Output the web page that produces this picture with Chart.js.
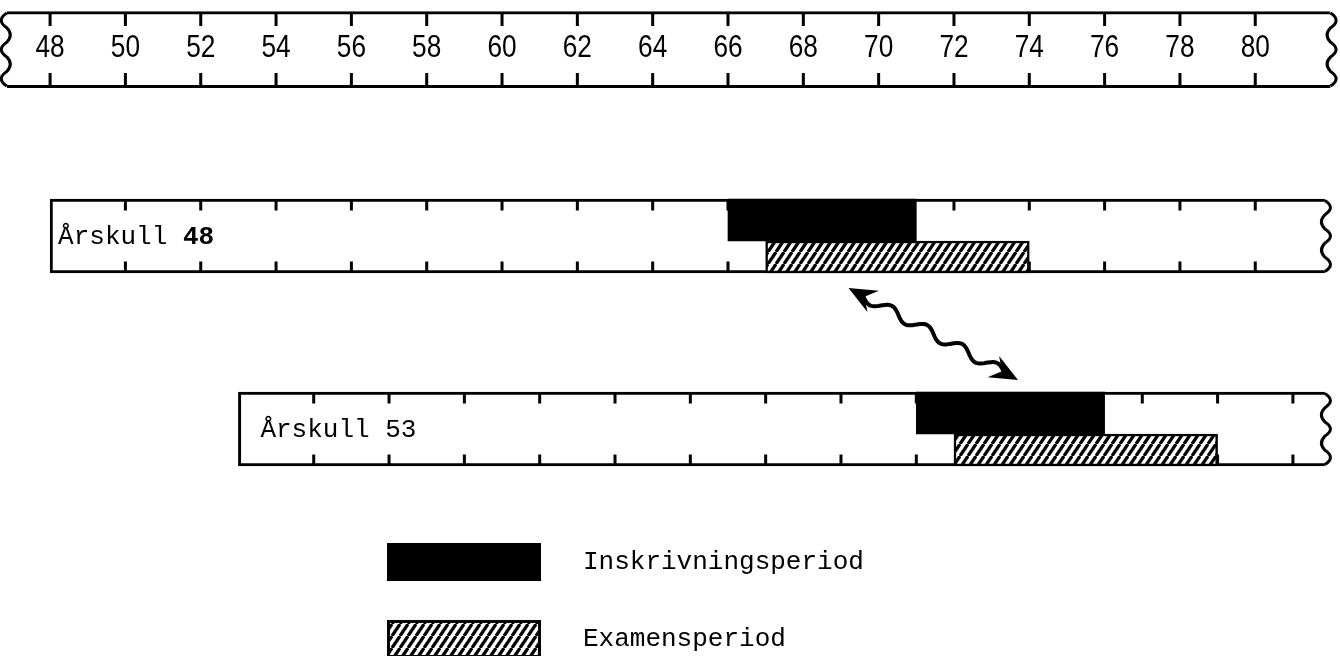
<!DOCTYPE html>
<html>
<head>
<meta charset="utf-8">
<script src="https://cdn.jsdelivr.net/npm/chart.js@4.4.1/dist/chart.umd.min.js"></script>
<style>
  html, body { margin: 0; padding: 0; background: #fff; }
  #wrap { width: 1340px; height: 656px; }
</style>
</head>
<body>
<div id="wrap"><canvas id="chart" width="1340" height="656"></canvas></div>
<script>
// --- data ---
const rulerYears = [48, 50, 52, 54, 56, 58, 60, 62, 64, 66, 68, 70, 72, 74, 76, 78, 80];
const cohorts = ["Årskull 48", "Årskull 53"];
const cohortStart = [48, 53];
const enrolStart = [66, 71];
const enrolEnd = [71, 76];
const examStart = [67, 72];
const examEnd = [74, 79];
const bandTicks = [
  [50, 52, 54, 56, 58, 60, 62, 64, 66, 68, 70, 72, 74, 76, 78, 80],
  [55, 57, 59, 61, 63, 65, 67, 69, 71, 73, 75, 77, 79, 81]
];
const legendLabels = ["Inskrivningsperiod", "Examensperiod"];

// --- layout (scale units, not data) ---
const X_MIN = 46.67, X_MAX = 82.25;
const Y_MAX = 32.8;            // 20px per unit
const rulerRow = 2.48;
const rulerSpan = [46.85, 82.0];
const cohortRow = [11.8, 21.45];
const bandEnd = 81.85;
const labelPad = [8, 22];
const boldYear = [true, false];
const arrowEnds = [[69.2, 14.4], [73.7, 19.0]];

const RULER_H = 76, BAND_H = 74, ENROL_H = 42, EXAM_H = 32;
const MONO = '"Liberation Mono", "DejaVu Sans Mono", monospace';

function makeHatch() {
  const w = 8, h = 12;
  const c = document.createElement("canvas");
  c.width = w; c.height = h;
  const g = c.getContext("2d");
  g.fillStyle = "#fff";
  g.fillRect(0, 0, w, h);
  g.strokeStyle = "#000";
  g.lineWidth = 3.2;
  for (const dx of [-w, 0, w]) {
    g.beginPath();
    g.moveTo(dx, h);
    g.lineTo(dx + w, 0);
    g.stroke();
  }
  return g.createPattern(c, "repeat");
}
const hatch = makeHatch();

// wavy vertical edge between two y's
function wavyEdge(ctx, x, top, bottom, dir) {
  const n = 5;
  const step = (bottom - top) / n;
  ctx.beginPath();
  ctx.moveTo(x, top);
  for (let i = 0; i < n; i++) {
    const amp = (i % 2 === 0 ? -11 : 7) * dir;
    ctx.quadraticCurveTo(x + amp, top + step * (i + 0.5), x, top + step * (i + 1));
  }
  ctx.lineWidth = 3;
  ctx.strokeStyle = "#000";
  ctx.stroke();
}

function drawTicks(ctx, xs, years, top, bottom, len) {
  ctx.save();
  ctx.strokeStyle = "#000";
  ctx.lineWidth = 3;
  years.forEach(y => {
    const px = xs.getPixelForValue(y);
    ctx.beginPath();
    ctx.moveTo(px, top); ctx.lineTo(px, top + len);
    ctx.moveTo(px, bottom); ctx.lineTo(px, bottom - len);
    ctx.stroke();
  });
  ctx.restore();
}

function drawRuler(chart) {
  const ctx = chart.ctx, xs = chart.scales.x, ys = chart.scales.y;
  const cy = ys.getPixelForValue(rulerRow);
  const top = cy - RULER_H / 2 + 1.5, bottom = cy + RULER_H / 2 - 1.5;
  drawTicks(ctx, xs, rulerYears, top, bottom, 13);
  wavyEdge(ctx, xs.getPixelForValue(rulerSpan[0]), top, bottom, 1);
  wavyEdge(ctx, xs.getPixelForValue(rulerSpan[1]), top, bottom, -1);
  ctx.save();
  ctx.fillStyle = "#000";
  ctx.textAlign = "center";
  ctx.textBaseline = "middle";
  ctx.font = '32px "Liberation Sans", Arial, sans-serif';
  rulerYears.forEach(y => {
    const px = xs.getPixelForValue(y);
    ctx.save();
    ctx.translate(px, cy - 1);
    ctx.scale(0.82, 1);
    ctx.fillText(String(y), 0, 0);
    ctx.restore();
  });
  ctx.restore();
}

function drawBands(chart) {
  const ctx = chart.ctx, xs = chart.scales.x, ys = chart.scales.y;
  cohorts.forEach((name, i) => {
    const cy = ys.getPixelForValue(cohortRow[i]);
    const top = cy - BAND_H / 2 + 1.5, bottom = cy + BAND_H / 2 - 1.5;
    drawTicks(ctx, xs, bandTicks[i], top, bottom, 10);
    wavyEdge(ctx, xs.getPixelForValue(bandEnd), top, bottom, -1);
    // label
    const parts = name.split(" ");
    let x = xs.getPixelForValue(cohortStart[i]) + labelPad[i];
    ctx.save();
    ctx.fillStyle = "#000";
    ctx.textBaseline = "middle";
    ctx.textAlign = "left";
    ctx.font = "26px " + MONO;
    ctx.fillText(parts[0] + " ", x, cy + 1);
    x += ctx.measureText(parts[0] + " ").width;
    ctx.font = (boldYear[i] ? "bold " : "") + "26px " + MONO;
    ctx.fillText(parts[1], x, cy + 1);
    ctx.restore();
  });
}

function drawArrow(chart) {
  const ctx = chart.ctx, xs = chart.scales.x, ys = chart.scales.y;
  const x0 = xs.getPixelForValue(arrowEnds[0][0]), y0 = ys.getPixelForValue(arrowEnds[0][1]);
  const x1 = xs.getPixelForValue(arrowEnds[1][0]), y1 = ys.getPixelForValue(arrowEnds[1][1]);
  const dx = x1 - x0, dy = y1 - y0, L = Math.hypot(dx, dy);
  const ux = dx / L, uy = dy / L, nx = -uy, ny = ux;
  const head = 28, hw = 12;
  ctx.save();
  ctx.strokeStyle = "#000";
  ctx.fillStyle = "#000";
  ctx.lineWidth = 4;
  ctx.lineCap = "round";
  ctx.beginPath();
  const t0 = head * 0.6, t1 = L - head * 0.6;
  for (let t = t0; t <= t1; t += 1) {
    const off = 5 * Math.sin((t - t0) / 40 * 2 * Math.PI);
    const px = x0 + ux * t + nx * off, py = y0 + uy * t + ny * off;
    if (t === t0) ctx.moveTo(px, py); else ctx.lineTo(px, py);
  }
  ctx.stroke();
  // heads
  [[x0, y0, 1], [x1, y1, -1]].forEach(([hx, hy, s]) => {
    const bx = hx + ux * head * s, by = hy + uy * head * s;
    ctx.beginPath();
    ctx.moveTo(hx, hy);
    ctx.lineTo(bx + nx * hw, by + ny * hw);
    ctx.lineTo(hx + ux * head * 0.65 * s, hy + uy * head * 0.65 * s);
    ctx.lineTo(bx - nx * hw, by - ny * hw);
    ctx.closePath();
    ctx.fill();
  });
  ctx.restore();
}

function drawLegend(chart) {
  const ctx = chart.ctx;
  const fills = [chart.data.datasets[1].backgroundColor, chart.data.datasets[0].backgroundColor];
  const rows = [543, 620];
  ctx.save();
  legendLabels.forEach((lab, i) => {
    ctx.fillStyle = fills[i];
    ctx.fillRect(387, rows[i], 154, 38);
    ctx.strokeStyle = "#000";
    ctx.lineWidth = 3;
    ctx.strokeRect(388.5, rows[i] + 1.5, 151, 35);
    ctx.fillStyle = "#000";
    ctx.font = "26px " + MONO;
    ctx.textBaseline = "middle";
    ctx.textAlign = "left";
    ctx.fillText(lab, 583, rows[i] + 19);
  });
  ctx.restore();
}

const decor = {
  id: "decor",
  afterDatasetDraw(chart, args) {
    const role = chart.data.datasets[args.index].role;
    if (role === "ruler") drawRuler(chart);
    if (role === "band") drawBands(chart);
  },
  afterDatasetsDraw(chart) {
    drawArrow(chart);
    drawLegend(chart);
  }
};

const ENROL_OFF = -(BAND_H - ENROL_H) / 2 / 20;
const EXAM_OFF = (BAND_H - EXAM_H) / 2 / 20;

new Chart(document.getElementById("chart"), {
  type: "bar",
  data: {
    datasets: [
      {
        label: legendLabels[1], role: "exam", order: 1,
        data: cohorts.map((c, i) => ({ x: [examStart[i], examEnd[i]], y: cohortRow[i] + EXAM_OFF })),
        backgroundColor: hatch, borderColor: "#000", borderWidth: 2.5,
        barThickness: EXAM_H, grouped: false, borderSkipped: false
      },
      {
        label: legendLabels[0], role: "enrol", order: 2,
        data: cohorts.map((c, i) => ({ x: [enrolStart[i], enrolEnd[i]], y: cohortRow[i] + ENROL_OFF })),
        backgroundColor: "#000", borderWidth: 0,
        barThickness: ENROL_H, grouped: false, borderSkipped: false
      },
      {
        label: "band", role: "band", order: 3,
        data: cohorts.map((c, i) => ({ x: [cohortStart[i], bandEnd], y: cohortRow[i] })),
        backgroundColor: "#fff", borderColor: "#000",
        borderWidth: { top: 3, bottom: 3, left: 3, right: 0 },
        barThickness: BAND_H, grouped: false, borderSkipped: false
      },
      {
        label: "ruler", role: "ruler", order: 4,
        data: [{ x: rulerSpan, y: rulerRow }],
        backgroundColor: "#fff", borderColor: "#000",
        borderWidth: { top: 3, bottom: 3, left: 0, right: 0 },
        barThickness: RULER_H, grouped: false, borderSkipped: false
      }
    ]
  },
  options: {
    indexAxis: "y",
    responsive: false,
    animation: false,
    devicePixelRatio: 1,
    layout: { padding: 0 },
    scales: {
      x: { type: "linear", min: X_MIN, max: X_MAX, display: false, offset: false },
      y: { type: "linear", min: 0, max: Y_MAX, reverse: true, display: false, offset: false }
    },
    plugins: {
      legend: { display: false },
      tooltip: { enabled: false }
    }
  },
  plugins: [decor]
});
</script>
</body>
</html>
